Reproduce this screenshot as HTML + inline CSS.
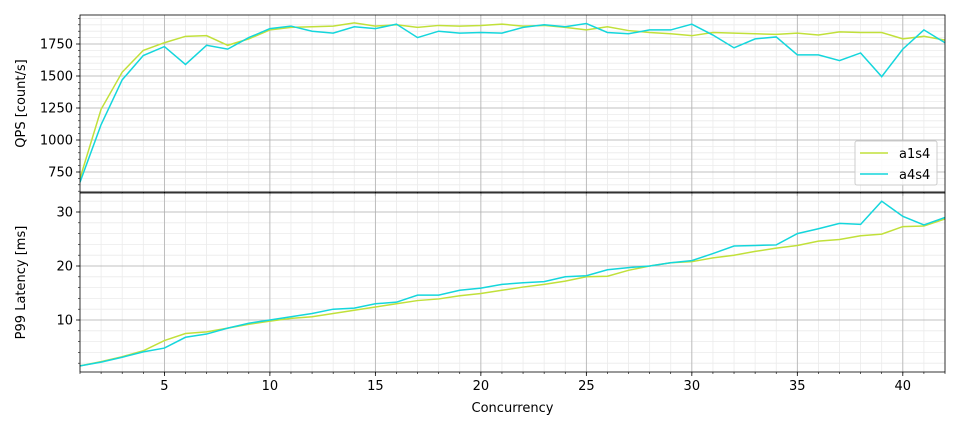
<!DOCTYPE html>
<html><head><meta charset="utf-8"><style>
body{margin:0;background:#fff;font-family:"Liberation Sans","DejaVu Sans",sans-serif;}
svg text{font-family:"DejaVu Sans","Liberation Sans",sans-serif;font-size:13px;fill:#000;}
</style></head><body>
<svg id="c" width="960" height="430" xmlns="http://www.w3.org/2000/svg"></svg>
<script>
const concurrency = Array.from({length:42},(_,i)=>i+1);
const qpsA1s4 = [700,1240,1530,1700,1760,1810,1815,1740,1790,1860,1880,1885,1890,1915,1890,1900,1880,1895,1890,1895,1905,1890,1895,1880,1860,1885,1855,1840,1830,1815,1840,1835,1830,1825,1835,1820,1845,1840,1840,1790,1810,1780];
const qpsA4s4 = [670,1120,1470,1660,1730,1590,1740,1710,1800,1870,1890,1850,1835,1885,1870,1905,1800,1850,1835,1840,1835,1880,1900,1885,1910,1840,1830,1860,1860,1905,1820,1720,1790,1805,1665,1665,1620,1680,1495,1710,1860,1760];
const latA1s4 = [1.5,2.3,3.2,4.3,6.2,7.5,7.8,8.5,9.2,9.8,10.3,10.6,11.2,11.8,12.4,13.0,13.6,13.9,14.5,14.9,15.5,16.1,16.6,17.2,18.0,18.1,19.2,20.0,20.6,20.8,21.5,22.0,22.7,23.3,23.8,24.6,24.9,25.6,25.9,27.3,27.4,28.7];
const latA4s4 = [1.5,2.2,3.1,4.1,4.8,6.8,7.4,8.5,9.4,10.0,10.6,11.2,12.0,12.2,13.0,13.3,14.6,14.6,15.5,15.9,16.6,16.9,17.1,18.0,18.2,19.3,19.7,20.0,20.6,21.0,22.3,23.7,23.8,23.9,26.0,26.9,27.9,27.7,32.0,29.2,27.6,29.0];
const xTicks = [5,10,15,20,25,30,35,40];
const qpsTicks = [750,1000,1250,1500,1750];
const latTicks = [10,20,30];

const NS="http://www.w3.org/2000/svg", svg=document.getElementById('c');
function el(t,a,p){const e=document.createElementNS(NS,t);for(const k in a)e.setAttribute(k,a[k]);(p||svg).appendChild(e);return e;}
const L=80,R=945;
const x=v=>L+(v-1)*(R-L)/41;
const yTop=v=>44+(1750-v)*128/1000;
const yBot=v=>212+(30-v)*5.4;
const panels=[{t:15,b:192,y:yTop,min:594,max:1976,minor:50,ticks:qpsTicks,s:[qpsA1s4,qpsA4s4],name:'qps-panel',label:'QPS [count/s]'},
{t:193,b:372,y:yBot,min:0.37,max:33.5,minor:2,ticks:latTicks,s:[latA1s4,latA4s4],name:'latency-panel',label:'P99 Latency [ms]'}];
const colors=['#c1e03a','#14d6dc'];
panels.forEach((p,pi)=>{
  const g=el('g',{});
  
  
  for(let v=Math.ceil(p.min/p.minor)*p.minor;v<=p.max;v+=p.minor){const yy=p.y(v);el('line',{x1:L,x2:R,y1:yy,y2:yy,stroke:'#ebebeb','stroke-width':0.8},g);el('line',{x1:L-2,x2:L,y1:yy,y2:yy,stroke:'#000','stroke-width':0.6},g);}
  concurrency.forEach(c=>{el('line',{x1:x(c),x2:x(c),y1:p.t,y2:p.b,stroke:'#ebebeb','stroke-width':0.8},g);el('line',{x1:x(c),x2:x(c),y1:p.b,y2:p.b+2,stroke:'#000','stroke-width':0.6},g);});
  xTicks.forEach(c=>{el('line',{x1:x(c),x2:x(c),y1:p.t,y2:p.b,stroke:'#b0b0b0','stroke-width':0.8},g);el('line',{x1:x(c),x2:x(c),y1:p.b,y2:p.b+4,stroke:'#000','stroke-width':0.8},g);
    if(pi==1){const t=el('text',{x:x(c),y:p.b+18,'text-anchor':'middle'},g);t.textContent=c;}});
  p.ticks.forEach(v=>{const yy=p.y(v);el('line',{x1:L,x2:R,y1:yy,y2:yy,stroke:'#b0b0b0','stroke-width':0.8},g);el('line',{x1:L-4,x2:L,y1:yy,y2:yy,stroke:'#000','stroke-width':0.8},g);
    const t=el('text',{x:L-7,y:yy+4.5,'text-anchor':'end'},g);t.textContent=v;});
  const cp=el('clipPath',{id:'cp'+pi},g);el('rect',{x:L,y:p.t,width:R-L,height:p.b-p.t},cp);
  p.s.forEach((arr,si)=>{const pl=el('polyline',{points:arr.map((v,i)=>x(concurrency[i])+','+p.y(v)).join(' '),fill:'none',stroke:colors[si],'stroke-width':1.5,'clip-path':'url(#cp'+pi+')'},g);
    });
  el('rect',{x:L,y:p.t,width:R-L,height:p.b-p.t,fill:'none',stroke:'#000','stroke-width':0.8},g);
  const cy=(p.t+p.b)/2;const t=el('text',{x:0,y:0,'text-anchor':'middle',transform:`translate(25,${cy}) rotate(-90)`},g);t.textContent=p.label;
  
});
const xt=el('text',{x:(L+R)/2,y:412,'text-anchor':'middle'});xt.textContent='Concurrency';

const lg=el('g',{});


el('rect',{x:855,y:141,width:82,height:44,rx:2,fill:'#fff','fill-opacity':0.8,stroke:'#ccc'},lg);
['a1s4','a4s4'].forEach((n,i)=>{el('line',{x1:860,x2:888,y1:153+i*21,y2:153+i*21,stroke:colors[i],'stroke-width':1.5},lg);
  const t=el('text',{x:899,y:158+i*21},lg);t.textContent=n;});
</script>
</body></html>
